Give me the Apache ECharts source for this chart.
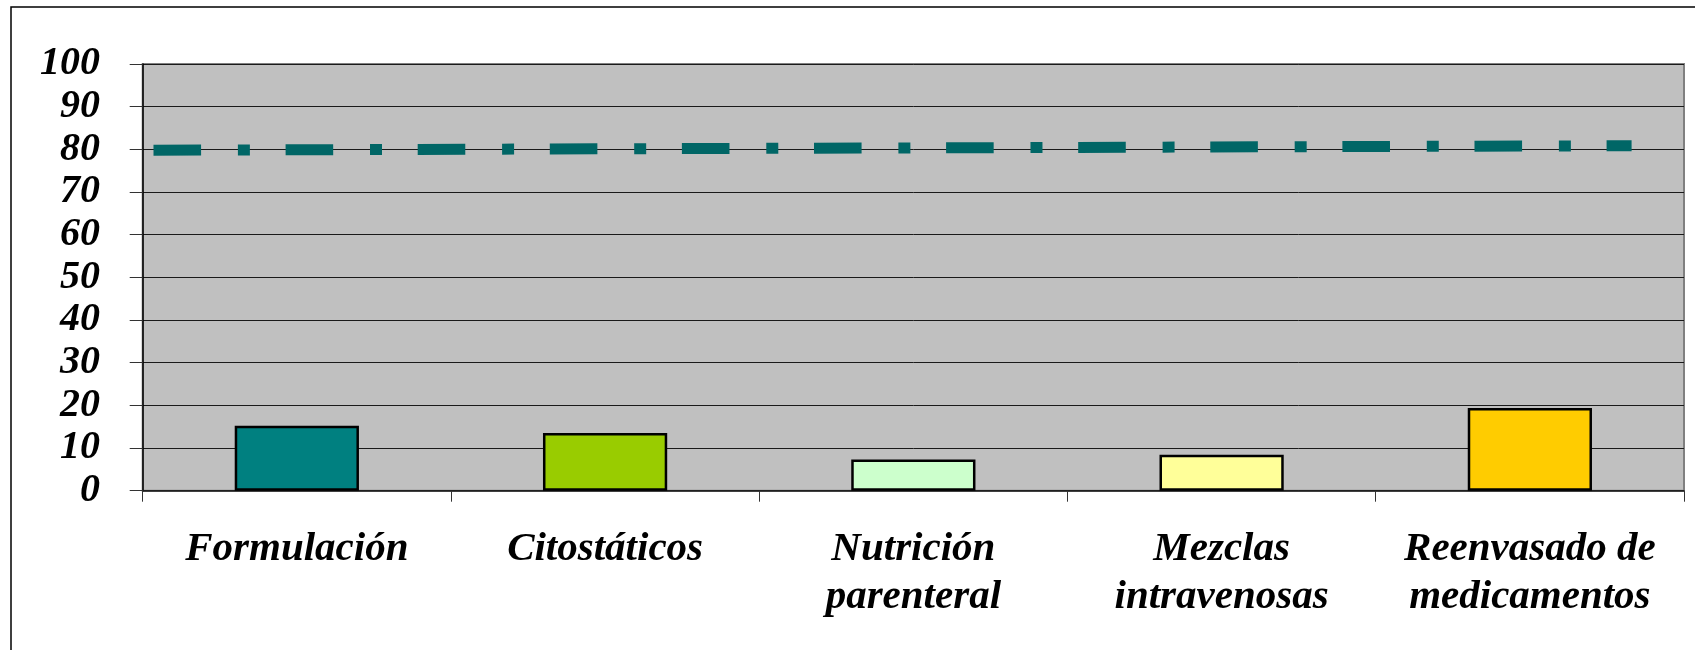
<!DOCTYPE html>
<html>
<head>
<meta charset="utf-8">
<script src="https://cdn.jsdelivr.net/npm/echarts@6/dist/echarts.min.js"></script>
<style>
html,body{margin:0;padding:0;background:#fff;}
#chart{width:1695px;height:650px;}
</style>
</head>
<body>
<div id="chart"></div>
<script>
const categories = ['Formulación', 'Citostáticos', 'Nutrición\nparenteral', 'Mezclas\nintravenosas', 'Reenvasado de\nmedicamentos'];
const barValues = [15.2, 13.5, 7.3, 8.4, 19.4];
const barColors = ['#008080', '#99CC00', '#CCFFCC', '#FFFF99', '#FFCC00'];
const yTicks = [0, 10, 20, 30, 40, 50, 60, 70, 80, 90, 100];
const refLineX = [0.007, 0.966];
const refLineY = [79.8, 80.85];

const chart = echarts.init(document.getElementById('chart'), null, {renderer: 'canvas'});
const font = '"Liberation Serif", "Times New Roman", serif';

const option = {
  animation: false,
  backgroundColor: '#ffffff',
  graphic: [{
    type: 'rect',
    shape: {x: 11, y: 7, width: 1750, height: 720},
    style: {fill: 'none', stroke: '#000', lineWidth: 1.5},
    silent: true,
    z: -10
  }],
  grid: {
    left: 142.7, top: 64, right: 11, bottom: 159.3,
    show: true, backgroundColor: '#C0C0C0', borderColor: '#808080', borderWidth: 2
  },
  xAxis: [{
    type: 'category',
    data: categories,
    boundaryGap: true,
    axisLine: {show: true, lineStyle: {color: '#222', width: 1.5}},
    axisTick: {show: true, length: 11, lineStyle: {color: '#333', width: 1}},
    axisLabel: {
      margin: 35, interval: 0,
      fontFamily: font, fontSize: 41, fontWeight: 'bold', fontStyle: 'italic',
      color: '#000', lineHeight: 48
    },
    splitLine: {show: false}
  }, {
    type: 'value', min: 0, max: 1, show: false
  }],
  yAxis: {
    type: 'value',
    min: yTicks[0], max: yTicks[yTicks.length - 1], interval: 10,
    axisLine: {show: true, lineStyle: {color: '#000', width: 1.5}},
    axisTick: {show: true, length: 13, lineStyle: {color: '#333', width: 1}},
    axisLabel: {
      margin: 42.7,
      fontFamily: font, fontSize: 40, fontWeight: 'bold', fontStyle: 'italic', color: '#000'
    },
    splitLine: {show: true, lineStyle: {color: '#1a1a1a', width: 1}}
  },
  series: [{
    type: 'bar',
    data: barValues.map((v, i) => ({value: v, itemStyle: {color: barColors[i]}})),
    barWidth: '40.3%',
    itemStyle: {borderColor: '#000', borderWidth: 2.5},
    z: 2
  }, {
    type: 'line',
    xAxisIndex: 1,
    data: refLineX.map((x, i) => [x, refLineY[i]]),
    symbol: 'none',
    lineStyle: {color: '#006666', width: 11, type: [47.6, 36.8, 12, 35.7], cap: 'butt'},
    z: 3
  }]
};
chart.setOption(option);
</script>
</body>
</html>
